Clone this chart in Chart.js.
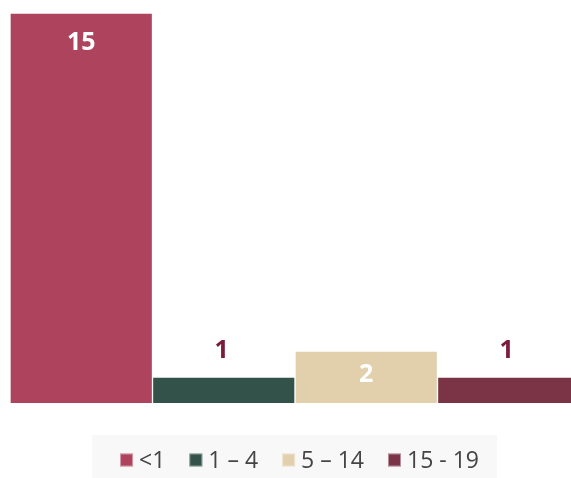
<!DOCTYPE html>
<html>
<head>
<meta charset="utf-8">
<script src="https://cdn.jsdelivr.net/npm/chart.js@4"></script>
<style>
html,body{margin:0;padding:0;background:#fff;overflow:hidden;}
#wrap{width:571px;height:478px;position:relative;overflow:hidden;}
</style>
</head>
<body>
<div id="wrap"><canvas id="c" width="580" height="478"></canvas></div>
<script>
const categories = ['<1', '1 – 4', '5 – 14', '15 - 19'];
const values = [15, 1, 2, 1];
const barColors = ['#ad435d', '#33524a', '#e2d0ad', '#7a3446'];
const yMax = 15;

const FONT = "'Open Sans', 'Noto Sans', sans-serif";

const labelPlugin = {
  id: 'barLabels',
  afterDatasetsDraw(chart) {
    const ctx = chart.ctx;
    const meta = chart.getDatasetMeta(0);
    ctx.save();
    ctx.font = 'bold 25px ' + FONT;
    ctx.textAlign = 'center';
    ctx.textBaseline = 'middle';
    meta.data.forEach((bar, i) => {
      const h = bar.base - bar.y;
      const v = chart.data.datasets[0].data[i];
      if (h >= 45) {
        ctx.fillStyle = '#ffffff';
        ctx.fillText(String(v), bar.x, bar.y + Math.min(30, h / 2 - 2));
      } else {
        ctx.fillStyle = '#7a1c3a';
        ctx.fillText(String(v), bar.x - 2, bar.y - 26);
      }
    });
    ctx.restore();
  }
};

const legendPlugin = {
  id: 'customLegend',
  afterDraw(chart) {
    const ctx = chart.ctx;
    ctx.save();
    ctx.fillStyle = '#f8f8f8';
    ctx.fillRect(92, 435, 405, 43);
    ctx.font = '23px ' + FONT;
    ctx.textBaseline = 'middle';
    ctx.textAlign = 'left';
    const box = 13, gap = 6, itemGap = 24;
    const labels = chart.data.labels;
    const colors = chart.data.datasets[0].backgroundColor;
    let total = 0;
    const widths = labels.map(l => ctx.measureText(l).width);
    widths.forEach((w, i) => { total += box + gap + w + (i < labels.length - 1 ? itemGap : 0); });
    let x = 299.5 - total / 2;
    const cy = 460;
    labels.forEach((l, i) => {
      ctx.fillStyle = colors[i];
      ctx.fillRect(x, cy - box / 2, box, box);
      ctx.strokeStyle = 'rgba(255,255,255,0.45)';
      ctx.lineWidth = 1;
      ctx.strokeRect(x + 0.5, cy - box / 2 + 0.5, box - 1, box - 1);
      ctx.fillStyle = '#444444';
      ctx.fillText(l, x + box + gap, cy + 1);
      x += box + gap + widths[i] + itemGap;
    });
    ctx.restore();
  }
};

new Chart(document.getElementById('c'), {
  type: 'bar',
  data: {
    labels: categories,
    datasets: [{
      data: values,
      backgroundColor: barColors,
      borderColor: 'rgba(255,255,255,0.4)',
      borderWidth: 1,
      barPercentage: 1,
      categoryPercentage: 1
    }]
  },
  options: {
    responsive: false,
    animation: false,
    layout: { padding: { left: 10, top: 13, right: 0, bottom: 75 } },
    plugins: { legend: { display: false }, tooltip: { enabled: false } },
    scales: {
      x: { display: false },
      y: { display: false, min: 0, max: yMax }
    }
  },
  plugins: [labelPlugin, legendPlugin]
});
</script>
</body>
</html>
